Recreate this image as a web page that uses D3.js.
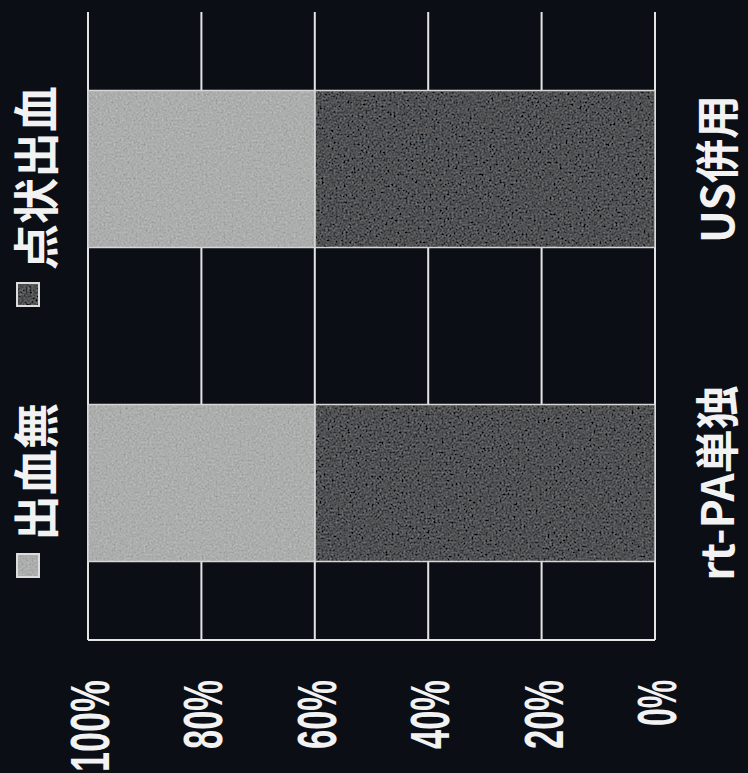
<!DOCTYPE html>
<html>
<head>
<meta charset="utf-8">
<script src="https://cdn.jsdelivr.net/npm/d3@7/dist/d3.min.js"></script>
<style>
  html, body { margin: 0; padding: 0; background: #0c0e16; }
  svg { display: block; }
</style>
</head>
<body>
<svg id="chart" width="748" height="773"></svg>
<script>
// ---- data ----
const categories = ["rt-PA単独", "US併用"];
const stackKeys = ["点状出血", "出血無"];        // stacking order (from 0%)
const legendOrder = ["出血無", "点状出血"];
const valuesNoBleed = [40, 40];                 // 出血無 (%)
const valuesPetechial = [60, 60];               // 点状出血 (%)
const tickValues = [0, 20, 40, 60, 80, 100];
const tickLabels = ["0%", "20%", "40%", "60%", "80%", "100%"];

const rows = categories.map((c, i) => ({
  cat: c, "出血無": valuesNoBleed[i], "点状出血": valuesPetechial[i]
}));

// ---- layout ----
const W = 748, H = 773;
const plot = { left: 88, right: 655, top: 12, bottom: 640 };
const colors = { "出血無": "#acadad", "点状出血": "#505153" };
const lineColor = "#e4e4e4";
const textColor = "#f2f2f2";

const svg = d3.select("#chart");
svg.append("rect").attr("width", W).attr("height", H).attr("fill", "#0c0e16");

const defs = svg.append("defs");
const f = defs.append("filter").attr("id", "grain")
  .attr("x", 0).attr("y", 0).attr("width", "100%").attr("height", "100%");
f.append("feTurbulence").attr("type", "fractalNoise").attr("baseFrequency", 0.5)
  .attr("numOctaves", 2).attr("seed", 7).attr("result", "noise");
f.append("feColorMatrix").attr("in", "noise").attr("type", "matrix")
  .attr("values", "0.33 0.33 0.33 0 0  0.33 0.33 0.33 0 0  0.33 0.33 0.33 0 0  0 0 0 0 1")
  .attr("result", "gray");
f.append("feComposite").attr("in", "SourceGraphic").attr("in2", "gray")
  .attr("operator", "arithmetic").attr("k1", 0).attr("k2", 1).attr("k3", 0.5).attr("k4", -0.25)
  .attr("result", "mix");
f.append("feComposite").attr("in", "mix").attr("in2", "SourceGraphic").attr("operator", "in");

// value axis runs right (0%) -> left (100%) because the chart is rotated
const x = d3.scaleLinear().domain([0, 100]).range([plot.right, plot.left]);
const y = d3.scaleBand().domain(categories).range([plot.bottom, plot.top])
  .paddingInner(0.5).paddingOuter(0.25);

// gridlines (include 0% and 100%)
svg.append("g").selectAll("line").data(tickValues).join("line")
  .attr("x1", d => x(d)).attr("x2", d => x(d))
  .attr("y1", plot.top).attr("y2", plot.bottom)
  .attr("stroke", lineColor).attr("stroke-width", 2);
// category-axis line (bottom)
svg.append("line")
  .attr("x1", plot.left).attr("x2", plot.right)
  .attr("y1", plot.bottom).attr("y2", plot.bottom)
  .attr("stroke", lineColor).attr("stroke-width", 2);

// stacked bars
const stacked = d3.stack().keys(stackKeys)(rows);
const gBars = svg.append("g");
stacked.forEach(layer => {
  const g = gBars.append("g");
  g.selectAll("rect.fill").data(layer).join("rect").attr("class", "fill")
    .attr("x", d => x(d[1])).attr("width", d => x(d[0]) - x(d[1]))
    .attr("y", d => y(d.data.cat)).attr("height", y.bandwidth())
    .attr("fill", colors[layer.key]).attr("filter", "url(#grain)");
  g.selectAll("rect.edge").data(layer).join("rect").attr("class", "edge")
    .attr("x", d => x(d[1])).attr("width", d => x(d[0]) - x(d[1]))
    .attr("y", d => y(d.data.cat)).attr("height", y.bandwidth())
    .attr("fill", "none").attr("stroke", "#d6d6d6").attr("stroke-width", 1.5);
});

// value tick labels (rotated, condensed bold)
svg.append("g").selectAll("text").data(tickValues).join("text")
  .attr("transform", d => `translate(${x(d) + 21},680) rotate(-90)`)
  .attr("text-anchor", "end")
  .attr("font-family", "'Liberation Sans Narrow', 'Liberation Sans', Arial, sans-serif")
  .attr("font-weight", "bold").attr("font-size", 55)
  .attr("fill", textColor)
  .attr("textLength", (d, i) => tickLabels[i].length * 23)
  .attr("lengthAdjust", "spacingAndGlyphs")
  .text((d, i) => tickLabels[i]);

// category labels
svg.append("g").selectAll("text").data(categories).join("text")
  .attr("transform", d => `translate(734,${y(d) + y.bandwidth() / 2}) rotate(-90)`)
  .attr("text-anchor", "middle")
  .attr("font-family", "'Noto Sans CJK JP', sans-serif")
  .attr("font-weight", "bold").attr("font-size", 44)
  .attr("fill", textColor)
  .text(d => d);

// legend
const legendSquareBottom = [577, 306];
const lg = svg.append("g");
legendOrder.forEach((k, i) => {
  const sb = legendSquareBottom[i];
  lg.append("rect").attr("x", 17).attr("y", sb - 23).attr("width", 22).attr("height", 23)
    .attr("fill", colors[k]).attr("filter", "url(#grain)");
  lg.append("rect").attr("x", 17).attr("y", sb - 23).attr("width", 22).attr("height", 23)
    .attr("fill", "none").attr("stroke", "#dcdcdc").attr("stroke-width", 2);
  lg.append("text")
    .attr("transform", `translate(53,${sb - 36}) rotate(-90)`)
    .attr("text-anchor", "start")
    .attr("font-family", "'Noto Sans CJK JP', sans-serif")
    .attr("font-weight", "bold").attr("font-size", 46)
    .attr("fill", textColor)
    .text(k);
});
</script>
</body>
</html>
